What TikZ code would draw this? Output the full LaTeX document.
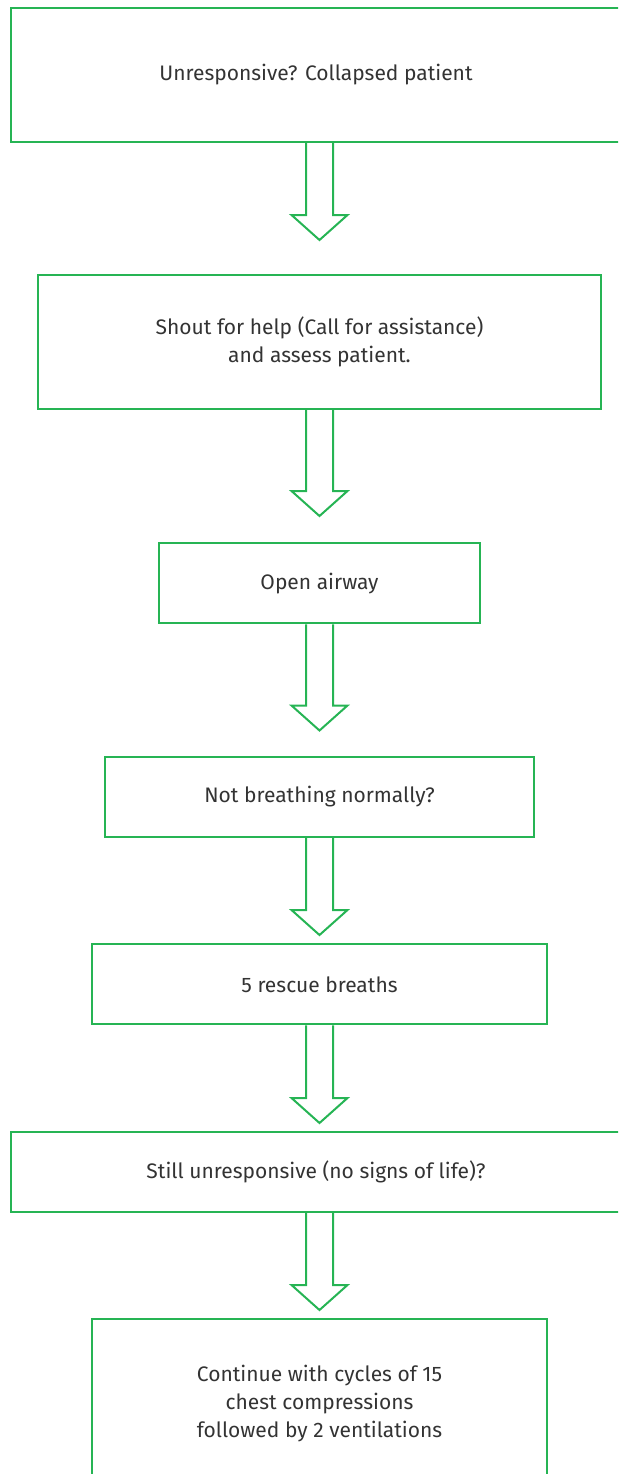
\documentclass[tikz,border=0pt]{standalone}
\usepackage{fontspec}
\setmainfont{Fira Sans}
\usetikzlibrary{calc}
\definecolor{flowgreen}{RGB}{38,180,84}
\definecolor{flowtext}{RGB}{51,51,51}
\tikzset{
  stepbox/.style={draw=flowgreen, line width=2pt, rectangle, inner sep=0pt,
    text=flowtext, align=center,
    font=\fontsize{21}{28}\selectfont},
  arrowline/.style={draw=flowgreen, line width=2pt, line join=miter}
}
% hollow block arrow hanging from the bottom of box #1 down to tip coordinate #2
\newcommand{\blockarrow}[2]{%
  \draw[arrowline]
    ($(#1.south -| #2)+(-13.5,0)$) -- ($(#2)+(-13.5,-25)$)
    -- ($(#2)+(-28,-25)$) -- (#2) -- ($(#2)+(28,-25)$)
    -- ($(#2)+(13.5,-25)$) -- ($(#1.south -| #2)+(13.5,0)$);}
\begin{document}
\begin{tikzpicture}[x=1pt, y=-1pt]
  \useasboundingbox (0,0) rectangle (618,1474);
  \clip (0,0) rectangle (618,1474);

  \node[stepbox, minimum width=610pt, minimum height=134pt] (b1) at (316,75)
    {Unresponsive? Collapsed patient};
  \node[stepbox, minimum width=563pt, minimum height=134pt] (b2) at (319.5,342)
    {Shout for help (Call for assistance)\\and assess patient.};
  \node[stepbox, minimum width=321pt, minimum height=80pt] (b3) at (319.5,583.3)
    {Open airway};
  \node[stepbox, minimum width=429pt, minimum height=80pt] (b4) at (319.5,797)
    {Not breathing normally?};
  \node[stepbox, minimum width=455pt, minimum height=80pt] (b5) at (319.5,984.4)
    {5 rescue breaths};
  \node[stepbox, minimum width=610pt, minimum height=80pt] (b6) at (316,1172)
    {Still unresponsive (no signs of life)?};
  \node[stepbox, minimum width=455pt, minimum height=170pt] (b7) at (319.5,1404)
    {Continue with cycles of 15\\chest compressions\\followed by 2 ventilations};

  % arrow tips
  \coordinate (t1) at (319.5,240);
  \coordinate (t2) at (319.5,516);
  \coordinate (t3) at (319.5,730.5);
  \coordinate (t4) at (319.5,935);
  \coordinate (t5) at (319.5,1123);
  \coordinate (t6) at (319.5,1310);

  \blockarrow{b1}{t1}
  \blockarrow{b2}{t2}
  \blockarrow{b3}{t3}
  \blockarrow{b4}{t4}
  \blockarrow{b5}{t5}
  \blockarrow{b6}{t6}
\end{tikzpicture}
\end{document}
